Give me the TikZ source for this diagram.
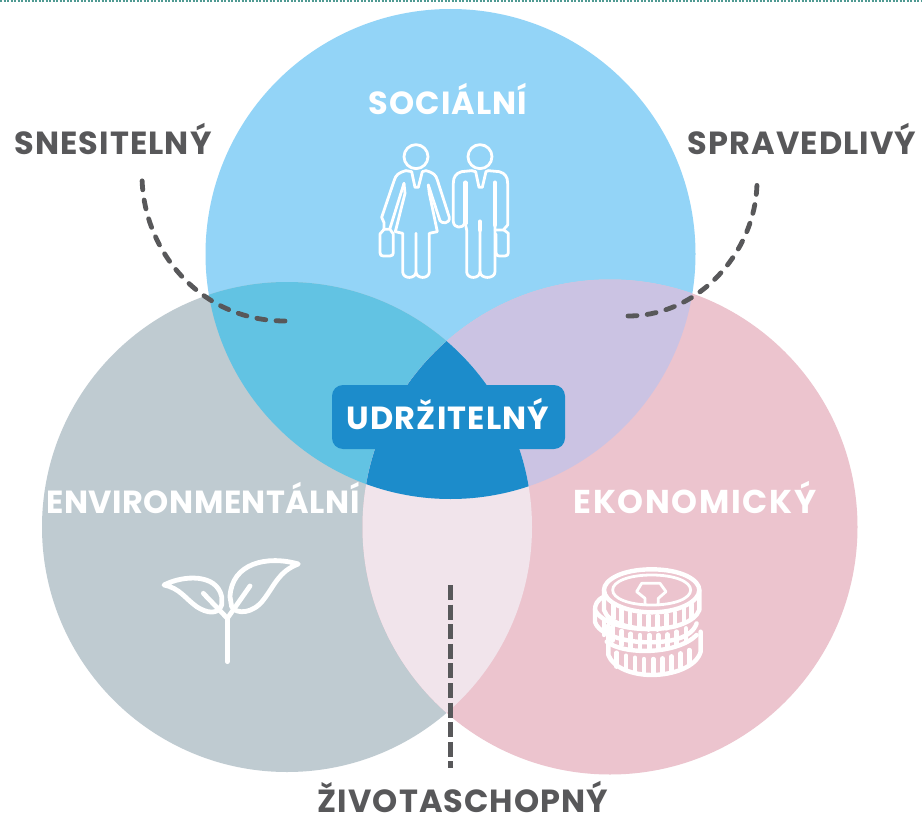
\documentclass[tikz,border=0pt]{standalone}
\usepackage{fontspec}
\setmainfont{Poppins}[BoldFont=Poppins Bold]
\newfontfamily\lab{Poppins Bold}[LetterSpace=3.4]
\newfontfamily\labtight{Poppins Bold}[LetterSpace=1.6]
\newfontfamily\labwide{Poppins Bold}[LetterSpace=5]
\usetikzlibrary{calc}
\definecolor{cSoc}{HTML}{93D4F7}
\definecolor{cEnv}{HTML}{BFCBD1}
\definecolor{cEko}{HTML}{ECC4CE}
\definecolor{cSE}{HTML}{62C3E3}
\definecolor{cSK}{HTML}{CBC3E3}
\definecolor{cEK}{HTML}{F1E4EB}
\definecolor{cMid}{HTML}{1C8CCB}
\definecolor{cTxt}{HTML}{58585A}
\definecolor{cTop}{HTML}{4F9A92}
\tikzset{
  x=1pt,y=-1pt,
  whitelab/.style={text=white,font=\lab\fontsize{32}{32}\selectfont,inner sep=0pt,anchor=base},
  greylab/.style={text=cTxt,font=\lab\fontsize{32}{32}\selectfont,inner sep=0pt,anchor=base},
  dashline/.style={draw=cTxt,line width=4.8pt,line cap=round,dash pattern=on 9pt off 10.3pt},
  vdash/.style={draw=cTxt,line width=5pt,dash pattern=on 15pt off 4.6pt},
  icon/.style={draw=white,line width=2.8pt,line join=round,line cap=round,fill=none},
  iconb/.style={draw=white,line width=4.4pt,line join=round,line cap=round,fill=none},
}
\newcommand{\cS}{(450.5,254) circle[radius=245]}
\newcommand{\cE}{(287,527) circle[radius=245]}
\newcommand{\cK}{(610,527) circle[radius=247.5]}
\begin{document}
\begin{tikzpicture}
\useasboundingbox (0,0) rectangle (922,816);
\fill[white] (0,0) rectangle (922,816);
\draw[cTop,line width=2pt,dash pattern=on 2pt off 1.5pt] (0,1.5) -- (922,1.5);
% circles
\fill[cSoc] \cS;
\fill[cEnv] \cE;
\fill[cEko] \cK;
\begin{scope}\clip \cS; \fill[cSE] \cE; \fill[cSK] \cK; \end{scope}
\begin{scope}\clip \cE; \fill[cEK] \cK; \end{scope}
\begin{scope}\clip \cS; \clip \cE; \fill[cMid] \cK; \end{scope}
% pill
\node[draw=none,fill=cMid,rounded corners=11pt,minimum width=233pt,minimum height=64pt,inner sep=0pt] (pill) at (448.5,417) {};
\node[whitelab] (udr) at (448,429) {UDRŽITELNÝ};
% labels
\node[whitelab] (soc) at (448,114) {SOCIÁLNÍ};
\node[whitelab,font=\labtight\fontsize{32}{32}\selectfont] (env) at (203,513) {ENVIRONMENTÁLNÍ};
\node[whitelab,font=\labwide\fontsize{33}{33}\selectfont] (eko) at (695,513) {EKONOMICKÝ};
\node[greylab] (sne) at (113,154) {SNESITELNÝ};
\node[greylab] (spr) at (802,154) {SPRAVEDLIVÝ};
\node[greylab] (ziv) at (463,812) {ŽIVOTASCHOPNÝ};
% dashed connectors
\coordinate (a1) at (142,175);
\coordinate (a2) at (285,321);
\coordinate (b1) at (757,181);
\coordinate (b2) at (628,316);
\coordinate (c1) at (450,585);
\coordinate (c2) at (450,768);
\draw[dashline] (a2) .. controls (200,321) and (142,250) .. (a1);
\draw[dashline] (b2) .. controls (700,316) and (757,250) .. (b1);
\draw[vdash] (c1) -- (c2);
% people (zoom coordinates)
\begin{scope}[shift={(360,130)},x=0.3333pt,y=-0.3333pt]
 \draw[icon] (168,80) circle[radius=36];
 \draw[icon] (360,80) circle[radius=36];
 % woman
 \draw[icon] (138,122) .. controls (115,128) and (108,135) .. (103,150) -- (65,262) -- (72,278) -- (72,300);
 \draw[icon] (60,312) -- (60,368) .. controls (60,376) and (64,378) .. (70,378) -- (90,378) .. controls (97,378) and (100,374) .. (100,368) -- (100,312) -- (90,298) -- (72,298) -- cycle;
 \draw[icon] (90,295) -- (132,160);
 \draw[icon] (132,160) -- (135,190) -- (106,305) -- (128,310) -- (128,425) .. controls (128,448) and (168,448) .. (168,425) -- (168,310) (168,425) .. controls (168,448) and (208,448) .. (208,425) -- (208,310) -- (232,305) -- (208,190) -- (205,165);
 \draw[icon] (198,122) .. controls (220,128) and (228,135) .. (232,150) -- (268,262) .. controls (270,282) and (245,282) .. (240,272) -- (205,165);
 \draw[icon] (138,122) -- (155,125) -- (165,172) -- (175,172) -- (187,125) -- (198,122);
 % man
 \draw[icon] (335,122) -- (305,125) .. controls (288,130) and (280,140) .. (280,160) -- (280,275) .. controls (282,296) and (308,296) .. (315,280);
 \draw[iconb] (316,158) -- (316,280);
 \draw[icon] (316,280) -- (320,300) -- (320,425) .. controls (320,448) and (360,448) .. (360,425) -- (360,280);
 \draw[iconb] (360,275) -- (360,300);
 \draw[icon] (360,425) .. controls (360,448) and (405,448) .. (405,425) -- (405,285);
 \draw[iconb] (405,158) -- (405,285);
 \draw[icon] (385,122) -- (418,125) .. controls (435,130) and (443,140) .. (443,160) -- (443,285) -- (430,300) -- (405,300);
 \draw[icon] (408,312) -- (408,368) .. controls (408,376) and (412,378) .. (418,378) -- (435,378) .. controls (442,378) and (445,374) .. (445,368) -- (445,310) -- (432,300);
 \draw[icon] (335,122) -- (347,125) -- (357,172) -- (367,172) -- (378,125) -- (385,122);
\end{scope}
% sprout
\begin{scope}[shift={(150,540)},x=0.3333pt,y=-0.3333pt,iconb/.append style={line width=4.8pt}]
 \draw[iconb] (232,365) -- (232,235);
 \draw[iconb] (42,135) .. controls (100,105) and (200,100) .. (215,170) -- (215,195) .. controls (205,225) and (170,220) .. (140,200) .. controls (105,175) and (90,145) .. (42,135) -- cycle;
 \draw[iconb] (160,160) -- (232,235);
 \draw[iconb] (445,72) .. controls (350,45) and (245,70) .. (240,170) -- (245,200) .. controls (260,225) and (310,220) .. (340,180) .. controls (375,135) and (385,95) .. (445,72) -- cycle;
 \draw[iconb] (300,138) -- (232,235);
\end{scope}
% coins
\begin{scope}[shift={(580,555)},x=0.3333pt,y=-0.3333pt]
 \draw[iconb] (85,210) -- (85,300) .. controls (100,340) and (160,360) .. (215,360) .. controls (280,360) and (350,335) .. (362,290) -- (362,230);
 \draw[iconb] (80,260) .. controls (130,300) and (290,300) .. (350,240);
 \draw[iconb] (72,125) .. controls (50,135) and (45,150) .. (45,165) -- (45,200) .. controls (55,240) and (140,262) .. (205,262) .. controls (270,262) and (335,250) .. (350,205);
 \draw[iconb] (45,165) .. controls (65,205) and (140,222) .. (200,222);
 \draw[iconb] (215,43) .. controls (305,43) and (358,75) .. (358,105) .. controls (358,140) and (295,172) .. (215,172) .. controls (135,172) and (72,140) .. (72,105) .. controls (72,75) and (125,43) .. (215,43) -- cycle;
 \draw[icon] (215,60) .. controls (285,60) and (332,80) .. (332,105) .. controls (332,130) and (285,150) .. (215,150) .. controls (145,150) and (98,130) .. (98,105) .. controls (98,80) and (145,60) .. (215,60) -- cycle;
 \draw[iconb] (72,105) -- (72,165) .. controls (85,205) and (150,222) .. (215,222) .. controls (285,222) and (345,200) .. (358,165) -- (358,105);
 \draw[icon] (195,150) -- (195,130) -- (170,110) -- (185,85) -- (240,85) -- (258,110) -- (235,130) -- (235,150);
 \foreach \tx/\ty/\bx in {100/148/100,125/162/125,150/172/150,178/178/178,205/182/205,232/182/232,260/178/260,285/172/285,312/160/312,335/147/335}
   \draw[iconb] (\tx,\ty) -- (\bx,\ty+42);
 \foreach \tx/\ty in {72/198,98/215,125/228,152/236,180/240,208/240,235/240,262/238,290/230,318/220}
   \draw[iconb] (\tx,\ty) -- (\tx,\ty+42);
 \foreach \tx/\ty in {110/293,138/302,165/308,192/312,220/312,248/310,275/304,302/295,328/285}
   \draw[iconb] (\tx,\ty) -- (\tx,\ty+42);
\end{scope}
\end{tikzpicture}
\end{document}
